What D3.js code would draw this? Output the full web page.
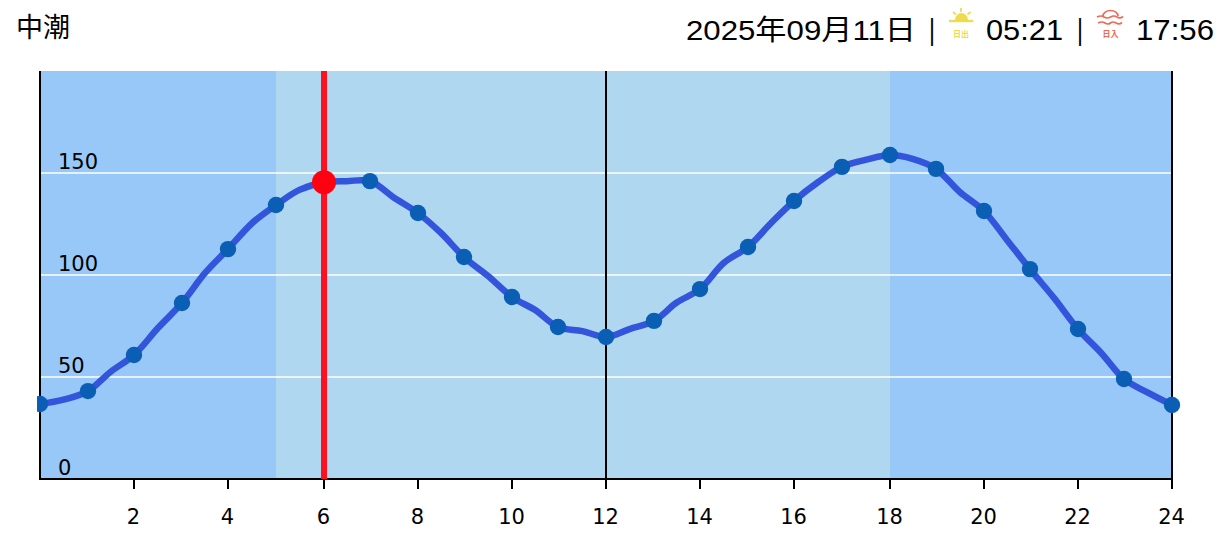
<!DOCTYPE html>
<html><head><meta charset="utf-8">
<script src="https://cdn.jsdelivr.net/npm/d3@7/dist/d3.min.js"></script>
<style>html,body{margin:0;padding:0;background:#fff;overflow:hidden}svg{display:block}</style>
</head><body><svg id="c" width="1230" height="553"></svg>
<script>
const tideName = "中潮";
const dateLabel = "2025年09月11日";
const sunriseLabel = "05:21";
const sunsetLabel = "17:56";
const hours = d3.range(0, 25);
const tide = [36.8,43.1,60.8,86.3,112.7,134.3,145.5,146,130.4,108.8,89.2,74.5,69.6,77.5,93.1,113.7,136.3,153,158.8,152,131.4,102.9,73.5,49,36.3];
const tideHalf = [38.9,52.6,74,101,125.5,141.7,146,138,120.6,99.5,82.8,72.5,73.5,86.5,106,125.5,145.6,156.4,156.9,140.7,117.2,88.7,61.8,42.2];
const xTicks = [2,4,6,8,10,12,14,16,18,20,22,24];
const yTicks = [0,50,100,150];
const nightBands = [[0,5],[18,24]];
const nowHour = 6, nowTide = 145.5;
const midLine = 12;

const svg = d3.select("#c");
const xc = d3.scaleLinear().domain([0,24]).rangeRound([20,586]);
const x = h => 2*xc(h);
const xf = d3.scaleLinear().domain([0,24]).range([40,1172]);
const y = d3.scaleLinear().domain([0,200]).range([479,71]);
const F = "DejaVu Sans, Verdana, sans-serif";
const H = "'Liberation Sans', Arial, 'Noto Sans CJK JP', sans-serif";
const J = "'Noto Sans CJK JP', sans-serif";

svg.append("rect").attr("x",x(0)).attr("y",y(200)).attr("width",x(24)-x(0)).attr("height",y(0)-y(200)).attr("fill","#b0d7f0");
svg.selectAll(".night").data(nightBands).join("rect").attr("x",d=>x(d[0])).attr("y",y(200)).attr("width",d=>x(d[1])-x(d[0])).attr("height",y(0)-y(200)).attr("fill","#98c8f8");

svg.selectAll(".grid").data(yTicks.slice(1)).join("line").attr("x1",x(0)).attr("x2",x(24)).attr("y1",d=>y(d)).attr("y2",d=>y(d)).attr("stroke","#fff").attr("stroke-width",1.6);
svg.selectAll(".ylab").data(yTicks).join("text").attr("x",58).attr("y",d=>y(d)-4.5).attr("font-family",F).attr("font-size",21).attr("fill","#000").text(d=>d);

const ax = (x1,y1,x2,y2,w)=>svg.append("line").attr("x1",x1).attr("y1",y1).attr("x2",x2).attr("y2",y2).attr("stroke","#000").attr("stroke-width",w);
ax(x(0),y(200),x(0),y(0)+1,2);
ax(x(24),y(200),x(24),y(0)+1,2);
ax(x(midLine),y(200),x(midLine),y(0),2);
ax(x(0)-1,y(0),x(24)+1,y(0),2);
svg.selectAll(".tick").data(xTicks).join("line").attr("x1",d=>x(d)).attr("x2",d=>x(d)).attr("y1",y(0)).attr("y2",y(0)+10).attr("stroke","#000").attr("stroke-width",2);
svg.selectAll(".xlab").data(xTicks).join("text").attr("x",d=>x(d)-0.5).attr("y",524).attr("text-anchor","middle").attr("font-family",F).attr("font-size",21).attr("fill","#000").text(d=>d);

svg.append("line").attr("x1",x(nowHour)).attr("x2",x(nowHour)).attr("y1",y(200)).attr("y2",y(0)).attr("stroke","#ff1020").attr("stroke-width",6);

svg.append("clipPath").attr("id","pc").append("rect").attr("x",37).attr("y",60).attr("width",1150).attr("height",430);
const g = svg.append("g").attr("clip-path","url(#pc)");
const linePts = [];
tide.forEach((v,i)=>{ linePts.push([hours[i],v]); if(i<tideHalf.length) linePts.push([hours[i]+0.5,tideHalf[i]]); });
const line = d3.line().x(d=>Number.isInteger(d[0])?x(d[0]):xf(d[0])).y(d=>y(d[1])).curve(d3.curveCatmullRom.alpha(0.5));
g.append("path").datum(linePts).attr("d",line).attr("fill","none").attr("stroke","#3355dc").attr("stroke-width",6.5).attr("stroke-linejoin","round");
g.selectAll(".pt").data(tide).join("circle").attr("cx",(d,i)=>x(hours[i])).attr("cy",d=>y(d)).attr("r",8.2).attr("fill","#0a5fb4");
g.append("circle").attr("cx",x(nowHour)).attr("cy",y(nowTide)).attr("r",12).attr("fill","#ff0010");

// header
svg.append("text").attr("x",16).attr("y",37).attr("font-family",J).attr("font-size",27).attr("fill","#000").text(tideName);
svg.append("text").attr("x",686).attr("y",40).attr("font-family",H).attr("font-size",28).attr("textLength",230).attr("lengthAdjust","spacingAndGlyphs").attr("fill","#000").text(dateLabel);
const hd = (t,xx,w)=>svg.append("text").attr("x",xx).attr("y",40).attr("font-family",H).attr("font-size",29).attr("textLength",w).attr("lengthAdjust","spacingAndGlyphs").attr("fill","#000").text(t);
hd("|",929,6); hd(sunriseLabel,986,77); hd("|",1077,6); hd(sunsetLabel,1136,78);

// sunrise icon
const SUN = "#ecdc50", SET = "#ee6a55";
const sr = svg.append("g").attr("stroke",SUN).attr("fill",SUN);
sr.append("path").attr("d","M955 20 A6.5 7 0 0 1 968 20 Z").attr("stroke","none");
sr.append("line").attr("x1",949).attr("x2",973).attr("y1",21).attr("y2",21).attr("stroke-width",2.4);
[[961,8,961,12],[953,12,956,14.5],[970.5,12,967.5,14.5]].forEach(a=>sr.append("line").attr("x1",a[0]).attr("y1",a[1]).attr("x2",a[2]).attr("y2",a[3]).attr("stroke-width",1.8));
svg.append("text").attr("x",961).attr("y",37).attr("text-anchor","middle").attr("font-family",J).attr("font-size",8).attr("font-weight",700).attr("fill",SUN).text("日出");
// sunset icon
const ss = svg.append("g").attr("fill","none").attr("stroke",SET).attr("stroke-width",1.7);
ss.append("path").attr("d","M1103 16 A7.5 5.5 0 0 1 1118 16");
ss.append("path").attr("d","M1097 17 Q1101 15 1104 17 T1110.5 17 T1117 17 T1123 16.5");
ss.append("path").attr("d","M1098 23 Q1102 21 1105 23 T1110.5 23 T1116 23 T1122 22.5");
svg.append("text").attr("x",1110.5).attr("y",36.5).attr("text-anchor","middle").attr("font-family",J).attr("font-size",8).attr("font-weight",700).attr("fill",SET).text("日入");
</script></body></html>
